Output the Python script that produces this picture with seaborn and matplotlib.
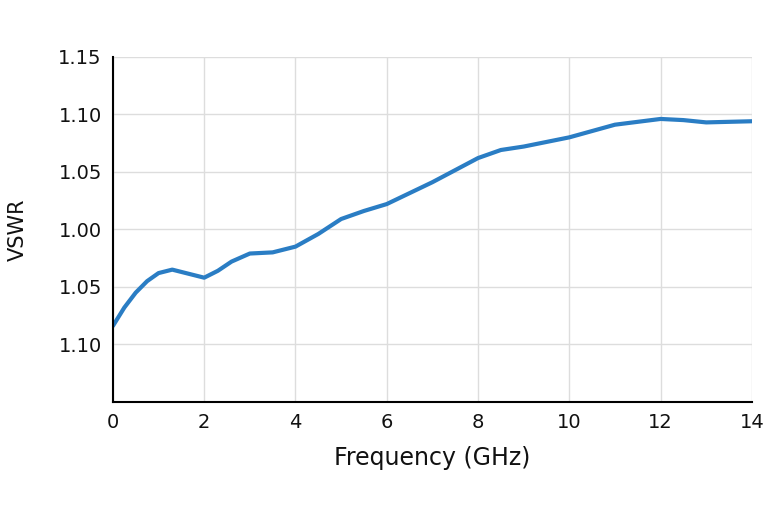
import numpy as np
import pandas as pd
import seaborn as sns
import matplotlib.pyplot as plt

# values
freq_ghz = [0, 0.25, 0.5, 0.75, 1.0, 1.3, 1.6, 2.0, 2.3, 2.6, 3.0, 3.5, 4.0, 4.5, 5.0,
            5.5, 6.0, 7.0, 8.0, 8.5, 9.0, 10.0, 11.0, 12.0, 12.5, 13.0, 14.0]
vswr = [0.916, 0.932, 0.945, 0.955, 0.962, 0.965, 0.962, 0.958, 0.964, 0.972, 0.979,
        0.980, 0.985, 0.996, 1.009, 1.016, 1.022, 1.041, 1.062, 1.069, 1.072, 1.080,
        1.091, 1.096, 1.095, 1.093, 1.094]
y_ticks = [1.15, 1.10, 1.05, 1.00, 0.95, 0.90]
y_tick_labels = ["1.15", "1.10", "1.05", "1.00", "1.05", "1.10"]
x_ticks = [0, 2, 4, 6, 8, 10, 12, 14]

df = pd.DataFrame({"freq": freq_ghz, "vswr": vswr})

sns.set_theme(style="white")
plt.rcParams['font.family'] = ['DejaVu Sans']

fig = plt.figure(figsize=(7.68, 5.12), dpi=100)
ax = fig.add_axes([0.147, 0.215, 0.832, 0.674])
sns.lineplot(data=df, x="freq", y="vswr", color="#2a7dc4", linewidth=3,
             ax=ax, solid_joinstyle="round", solid_capstyle="round")

ax.set_xlim(0, 14)
ax.set_ylim(0.85, 1.15)
ax.set_xticks(x_ticks)
ax.set_yticks(y_ticks)
ax.set_yticklabels(y_tick_labels)
ax.grid(True, color="#dddddd", linewidth=1)
for s in ["top", "right"]:
    ax.spines[s].set_visible(False)
for s in ["left", "bottom"]:
    ax.spines[s].set_color("black")
    ax.spines[s].set_linewidth(1.5)
ax.tick_params(labelsize=14, length=0, pad=8, labelcolor="#111111")
ax.set_xlabel("Frequency (GHz)", fontsize=17, labelpad=10, color="#111111")
ax.set_ylabel("VSWR", fontsize=15, labelpad=22, color="#111111")

fig.savefig("out.png", dpi=100)
